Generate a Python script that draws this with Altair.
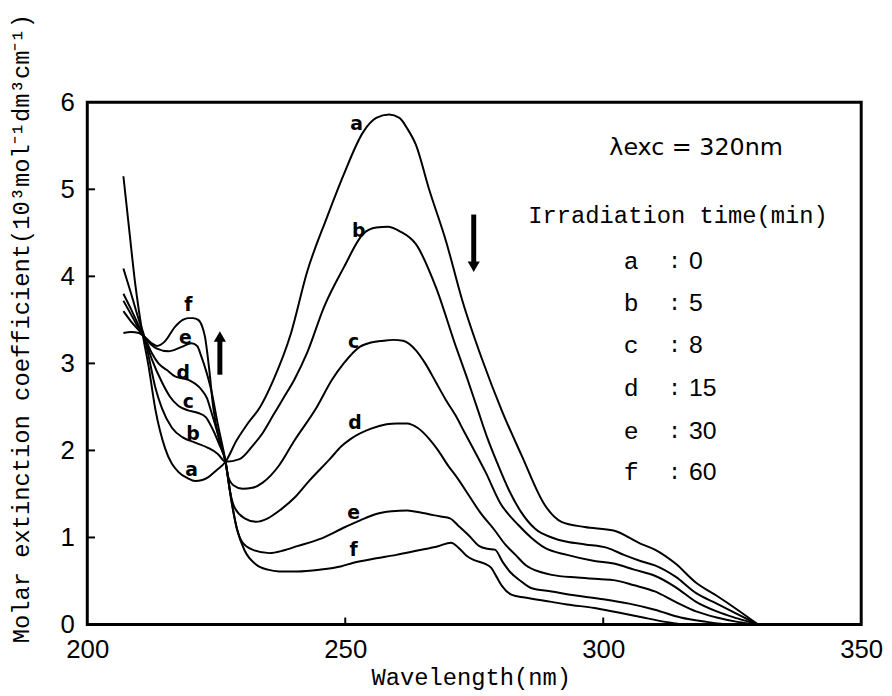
import altair as alt
import pandas as pd

# ---------------- data ----------------
wl_a = [207, 208.1, 209.3, 210.6, 211.9, 213.2, 215.1, 217.7, 219.5, 220.9, 222.3, 223.4, 225, 226.8,
        228.9, 231, 233.5, 236, 239.5, 242.6, 246.4, 249.7, 253.5, 256, 258.5, 260.5, 262, 263.7,
        266.2, 269.5, 272.7, 276.5, 280.4, 284.2, 288.7, 291.9, 296.4, 302, 307.2, 310, 314, 318,
        322, 326, 330]
abs_a = [5.15, 4.55, 3.91, 3.38, 2.96, 2.47, 2.02, 1.75, 1.68, 1.65, 1.66, 1.69, 1.77, 1.87,
         2.11, 2.3, 2.5, 2.8, 3.35, 4.05, 4.67, 5.17, 5.66, 5.82, 5.86, 5.82, 5.7, 5.51,
         5.01, 4.41, 3.72, 3.05, 2.45, 1.94, 1.37, 1.18, 1.12, 1.08, 0.93, 0.86, 0.7, 0.48,
         0.33, 0.17, 0]

wl_b = [207, 208.5, 210, 211, 212, 213.2, 214.5, 216.4, 218.5, 220.9, 223.4, 225.3, 226.8, 229.5,
        232, 234, 236, 238, 240.1, 242.6, 245.9, 249.7, 253.5, 256, 258.3, 260.5, 263.7, 267.6,
        271.4, 273.5, 275.5, 277.5, 279.5, 281.6, 284, 286.8, 290, 293, 296.5, 300.8, 304, 307.2,
        310, 314, 318, 322, 326, 330]
abs_b = [4.09, 3.8, 3.5, 3.32, 3.05, 2.72, 2.48, 2.26, 2.15, 2.09, 2.03, 1.96, 1.87, 1.9,
         2.05, 2.2, 2.4, 2.6, 2.81, 3.12, 3.65, 4.1, 4.49, 4.56, 4.57, 4.52, 4.37, 3.87,
         3.2, 2.85, 2.5, 2.15, 1.85, 1.56, 1.3, 1.1, 1.0, 0.95, 0.92, 0.88, 0.8, 0.73,
         0.68, 0.55, 0.36, 0.24, 0.12, 0]

wl_c = [207, 208.5, 210, 211, 212.5, 214.5, 216, 217.7, 219.5, 221.5, 223, 224, 225.5, 226.8,
        227.3, 228.3, 230.1, 232, 234, 237.2, 240, 244.5, 247.4, 249.7, 252.8, 255, 257.4, 259.3,
        261.2, 263.7, 265.5, 267.6, 269.5, 271.4, 273, 275, 277.2, 280, 283.6, 286, 288.7, 293,
        298.3, 302, 306, 310, 314, 318, 322, 326, 330]
abs_c = [3.8, 3.62, 3.43, 3.31, 3.05, 2.78, 2.62, 2.51, 2.46, 2.43, 2.38, 2.28, 2.08, 1.87,
         1.7, 1.6, 1.56, 1.57, 1.63, 1.83, 2.1, 2.5, 2.81, 3.0, 3.19, 3.24, 3.26, 3.27,
         3.26, 3.15, 3.0, 2.78, 2.58, 2.4, 2.22, 2.0, 1.75, 1.4, 1.14, 1.0, 0.88, 0.8,
         0.73, 0.7, 0.63, 0.56, 0.43, 0.26, 0.15, 0.07, 0]

wl_d = [207, 208.5, 210, 211, 212.5, 213.8, 215.5, 217, 219.6, 222.1, 223.2, 224, 225.5, 226.8,
        227.6, 228.5, 230.5, 232.7, 235, 237.5, 240.4, 243, 247, 249.3, 251, 255, 258, 260,
        262, 264, 266.3, 268, 270, 271.4, 274, 276, 279, 281, 283, 285, 288, 290,
        295, 299.6, 302, 306, 310, 314, 318, 322, 326, 330]
abs_d = [3.72, 3.56, 3.4, 3.31, 3.12, 3.0, 2.92, 2.85, 2.81, 2.7, 2.6, 2.45, 2.15, 1.87,
         1.55, 1.35, 1.22, 1.18, 1.22, 1.32, 1.47, 1.65, 1.9, 2.05, 2.13, 2.25, 2.3, 2.31,
         2.31, 2.26, 2.13, 2.0, 1.82, 1.71, 1.48, 1.3, 1.08, 0.92, 0.8, 0.68, 0.6, 0.57,
         0.54, 0.52, 0.51, 0.45, 0.38, 0.26, 0.15, 0.08, 0.03, 0]

wl_e = [207, 208.5, 210, 211, 212.3, 213.5, 215.7, 218.3, 220.2, 221.3, 222.1, 223, 224, 225.3,
        226.8, 228, 229, 230, 232, 235.3, 238, 240.7, 245, 250, 253, 256, 259, 262,
        265, 268.5, 270.3, 272, 274, 276, 277.5, 279, 280.5, 282, 284, 286, 290, 295,
        300, 305, 310, 315, 320, 324]
abs_e = [3.6, 3.48, 3.38, 3.31, 3.22, 3.17, 3.14, 3.19, 3.23, 3.2, 3.08, 2.92, 2.7, 2.3,
         1.87, 1.4, 1.1, 0.95, 0.86, 0.82, 0.85, 0.9, 0.98, 1.12, 1.2, 1.27, 1.3, 1.31,
         1.28, 1.24, 1.22, 1.13, 1.02, 0.9, 0.87, 0.86, 0.72, 0.6, 0.5, 0.42, 0.38, 0.33,
         0.29, 0.24, 0.17, 0.08, 0.03, 0]

wl_f = [207, 208.5, 210, 211, 212.3, 213.5, 215, 217, 218.5, 219.6, 220.5, 221.5, 222.3, 222.8,
        223.6, 224.4, 225.7, 226.8, 228, 229, 230.5, 232.7, 235, 237.2, 240.7, 245, 249.3, 251.6,
        256, 259.9, 264, 268, 270.5, 272, 273.5, 275, 277, 278.3, 279.3, 280.4, 282.3, 284.8,
        290, 293, 298.3, 302.7, 307, 312, 316]
abs_f = [3.35, 3.36, 3.35, 3.31, 3.24, 3.2, 3.25, 3.42, 3.5, 3.52, 3.52, 3.5, 3.42, 3.31,
         2.95, 2.5, 2.09, 1.87, 1.4, 1.1, 0.85, 0.69, 0.63, 0.61, 0.61, 0.63, 0.67, 0.71,
         0.76, 0.8, 0.85, 0.9, 0.94, 0.88, 0.79, 0.74, 0.7, 0.65, 0.55, 0.44, 0.34, 0.31,
         0.26, 0.23, 0.19, 0.14, 0.09, 0.03, 0]

curve_names = ["a", "b", "c", "d", "e", "f"]

# curve labels (letters on the curves)
lab_text = ["a", "b", "c", "d", "e", "f", "f", "e", "d", "c", "b", "a"]
lab_x = [252.2, 252.6, 251.6, 251.9, 251.6, 251.6, 219.6, 219.0, 218.6, 219.6, 220.5, 220.2]
lab_y = [5.75, 4.52, 3.25, 2.32, 1.28, 0.86, 3.67, 3.29, 2.89, 2.55, 2.19, 1.77]

# legend block on the right
legend_letters = ["a", "b", "c", "d", "e", "f"]
legend_minutes = ["0", "5", "8", "15", "30", "60"]
legend_rows_y = [4.18, 3.69, 3.21, 2.72, 2.22, 1.75]
legend_letter_x = 305.4
legend_colon_x = 313.8
legend_num_x = 316.6
exc_text = "λexc = 320nm"
exc_pos = (318.0, 5.47)
irr_text = "Irradiation time(min)"
irr_pos = (314.5, 4.69)

# arrows (x, tail, end of shaft, head centre)
arrow_x = [225.7, 274.9]
arrow_tail = [2.87, 4.71]
arrow_shaft_end = [3.28, 4.16]
arrow_head = [3.31, 4.11]
arrow_shape = ["triangle-up", "triangle-down"]

# inner ticks
ytick_vals = [1, 2, 3, 4, 5]
xtick_vals = [250, 300]

# ---------------- build ----------------
rows = []
for name, wl, ab in zip(curve_names, [wl_a, wl_b, wl_c, wl_d, wl_e, wl_f],
                        [abs_a, abs_b, abs_c, abs_d, abs_e, abs_f]):
    for w, v in zip(wl, ab):
        rows.append({"curve": name, "wl": w, "val": v})
df = pd.DataFrame(rows)

xs = alt.Scale(domain=[200, 350], nice=False, zero=False)
ys = alt.Scale(domain=[0, 6], nice=False, zero=False)

x_axis = alt.Axis(values=[200, 250, 300, 350], format="d", grid=False, ticks=False, domain=False,
                  labelFont="Liberation Sans", labelFontSize=26, labelColor="black", labelPadding=12,
                  labelFlush=False, labelOverlap=False,
                  title="Wavelength(nm)", titleFont="Liberation Mono", titleFontSize=24,
                  titleFontWeight="normal", titleColor="black", titleX=387, titleY=61,
                  titleAlign="center", titleBaseline="alphabetic")
y_axis = alt.Axis(values=[0, 1, 2, 3, 4, 5, 6], format="d", grid=False, ticks=False, domain=False,
                  labelFont="Liberation Sans", labelFontSize=26, labelColor="black", labelPadding=13,
                  labelFlush=False, labelOverlap=False,
                  title="Molar extinction coefficient(10³mol⁻¹dm³cm⁻¹)",
                  titleFont="Liberation Mono", titleFontSize=24, titleFontWeight="normal",
                  titleColor="black", titleAngle=270, titleX=-66, titleY=228,
                  titleAlign="center", titleBaseline="middle")

lines = alt.Chart(df).mark_line(color="black", strokeWidth=2, interpolate="monotone").encode(
    x=alt.X("wl:Q", scale=xs, axis=x_axis),
    y=alt.Y("val:Q", scale=ys, axis=y_axis),
    detail="curve:N",
)

yt = pd.DataFrame({"v": ytick_vals, "x0": [200] * len(ytick_vals), "x1": [201.5] * len(ytick_vals)})
yticks = alt.Chart(yt).mark_rule(color="black", strokeWidth=2).encode(
    x=alt.X("x0:Q", scale=xs), x2="x1:Q", y=alt.Y("v:Q", scale=ys))
xt = pd.DataFrame({"v": xtick_vals, "y0": [0] * len(xtick_vals), "y1": [0.08] * len(xtick_vals)})
xticks = alt.Chart(xt).mark_rule(color="black", strokeWidth=2).encode(
    x=alt.X("v:Q", scale=xs), y=alt.Y("y0:Q", scale=ys), y2="y1:Q")

labdf = pd.DataFrame({"t": lab_text, "x": lab_x, "y": lab_y})
labels = alt.Chart(labdf).mark_text(font="DejaVu Sans", fontSize=19, fontWeight="bold",
                                    color="black", align="center", baseline="middle").encode(
    x=alt.X("x:Q", scale=xs), y=alt.Y("y:Q", scale=ys), text="t:N")

legdf = pd.DataFrame({"letter": legend_letters, "num": legend_minutes, "y": legend_rows_y,
                      "lx": [legend_letter_x] * 6, "cx": [legend_colon_x] * 6,
                      "nx": [legend_num_x] * 6, "colon": [":"] * 6})
leg_letters = alt.Chart(legdf).mark_text(font="Liberation Mono", fontSize=25, color="black",
                                         align="center", baseline="middle").encode(
    x=alt.X("lx:Q", scale=xs), y=alt.Y("y:Q", scale=ys), text="letter:N")
leg_colons = alt.Chart(legdf).mark_text(font="Liberation Mono", fontSize=22, color="black",
                                        align="center", baseline="middle").encode(
    x=alt.X("cx:Q", scale=xs), y=alt.Y("y:Q", scale=ys), text="colon:N")
leg_nums = alt.Chart(legdf).mark_text(font="Liberation Sans", fontSize=25, color="black",
                                      align="left", baseline="middle").encode(
    x=alt.X("nx:Q", scale=xs), y=alt.Y("y:Q", scale=ys), text="num:N")

headdf = pd.DataFrame({"t": [exc_text, irr_text], "x": [exc_pos[0], irr_pos[0]],
                       "y": [exc_pos[1], irr_pos[1]]})
exc = alt.Chart(headdf.iloc[[0]]).mark_text(font="DejaVu Sans", fontSize=24, color="black",
                                            align="center", baseline="middle").encode(
    x=alt.X("x:Q", scale=xs), y=alt.Y("y:Q", scale=ys), text="t:N")
irr = alt.Chart(headdf.iloc[[1]]).mark_text(font="Liberation Mono", fontSize=24, color="black",
                                            align="center", baseline="middle").encode(
    x=alt.X("x:Q", scale=xs), y=alt.Y("y:Q", scale=ys), text="t:N")

arrdf = pd.DataFrame({"x": arrow_x, "y0": arrow_tail, "y1": arrow_shaft_end,
                      "h": arrow_head, "shape": arrow_shape})
shafts = alt.Chart(arrdf).mark_rule(color="black", strokeWidth=5).encode(
    x=alt.X("x:Q", scale=xs), y=alt.Y("y0:Q", scale=ys), y2="y1:Q")
heads = alt.Chart(arrdf).mark_point(color="black", filled=True, opacity=1, size=150).encode(
    x=alt.X("x:Q", scale=xs), y=alt.Y("h:Q", scale=ys),
    shape=alt.Shape("shape:N", scale=None))

chart = alt.layer(lines, yticks, xticks, labels, leg_letters, leg_colons, leg_nums, exc, irr,
                  shafts, heads).properties(
    width=781, height=527,
    autosize=alt.AutoSizeParams(type="none"),
    padding={"left": 80, "top": 92, "right": 23, "bottom": 66},
).configure(background="white").configure_view(stroke="black", strokeWidth=3)

chart.save("out.html", embed_options={"renderer": "svg", "actions": False})
